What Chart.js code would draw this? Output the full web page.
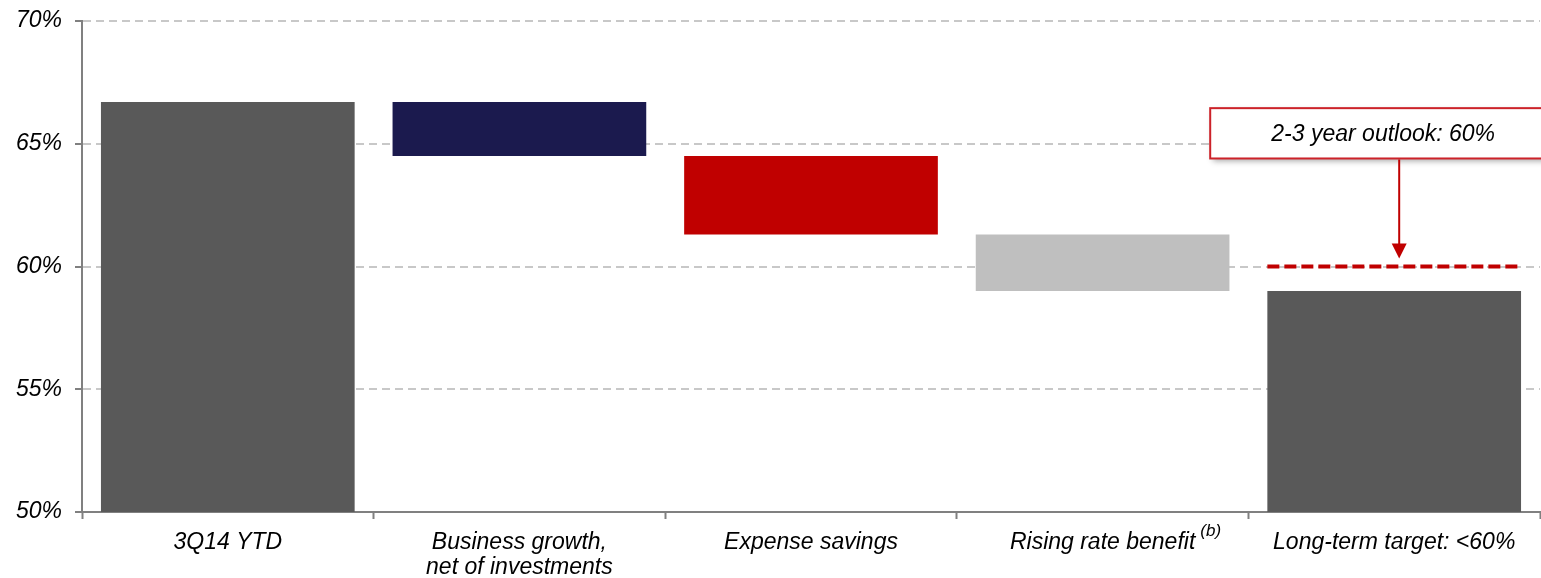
<!DOCTYPE html>
<html>
<head>
<meta charset="utf-8">
<title>Efficiency ratio walk</title>
<script src="https://cdn.jsdelivr.net/npm/chart.js@4/dist/chart.umd.min.js"></script>
<style>
  html, body { margin: 0; padding: 0; background: #fff; }
  #wrap { position: relative; width: 1541px; height: 578px; }
</style>
</head>
<body>
<div id="wrap"><canvas id="walkChart"></canvas></div>
<script>
// Waterfall steps: each bar floats from start to end (percent)
const categories = ['3Q14 YTD', ['Business growth,', 'net of investments'], 'Expense savings', 'Rising rate benefit', 'Long-term target: <60%'];
const barStarts = [50, 64.5, 61.3, 59.0, 50];
const barEnds = [66.7, 66.7, 64.5, 61.3, 59.0];
const yTicks = [50, 55, 60, 65, 70];

const outlookText = '2-3 year outlook: 60%';
const outlookValue = 60;
const footnoteIndex = 3;
const footnoteText = '(b)';

const barColors = ['#595959', '#1B1A4E', '#C00000', '#BFBFBF', '#595959'];
const FONT = "'Liberation Sans', Arial, sans-serif";
const FONT_SIZE = 23;
const TICK_LEN = 7;
const X_PAD = 11;
const LINE_H = 1.1;

const outlookPlugin = {
    id: 'outlook',
    afterDatasetsDraw(chart) {
        const { ctx, scales: { y } } = chart;
        const bar = chart.getDatasetMeta(0).data[4];
        const { x: bx, width: bw } = bar.getProps(['x', 'width'], true);
        const yLine = y.getPixelForValue(outlookValue);

        ctx.save();
        // dashed target line across the last bar
        ctx.strokeStyle = '#C00000';
        ctx.lineWidth = 4;
        ctx.setLineDash([12, 5]);
        ctx.beginPath();
        ctx.moveTo(bx - bw / 2, yLine);
        ctx.lineTo(bx + bw / 2, yLine);
        ctx.stroke();
        ctx.setLineDash([]);

        // callout box
        const boxW = 346;
        const cx = bx - 11;
        const top = y.getPixelForValue(66.45);
        const bottom = y.getPixelForValue(64.4);
        ctx.save();
        ctx.shadowColor = 'rgba(0,0,0,0.35)';
        ctx.shadowBlur = 6;
        ctx.shadowOffsetX = 3;
        ctx.shadowOffsetY = 3;
        ctx.fillStyle = '#fff';
        ctx.fillRect(cx - boxW / 2, top, boxW, bottom - top);
        ctx.restore();
        ctx.strokeStyle = '#CC2229';
        ctx.lineWidth = 2;
        ctx.strokeRect(cx - boxW / 2, top, boxW, bottom - top);

        ctx.fillStyle = '#000';
        ctx.font = 'italic ' + FONT_SIZE + 'px ' + FONT;
        ctx.textAlign = 'center';
        ctx.textBaseline = 'middle';
        ctx.fillText(outlookText, cx, (top + bottom) / 2 + 1);

        // arrow down to the outlook line
        const ax = bx + 5;
        const tip = yLine - 8;
        ctx.strokeStyle = '#C00000';
        ctx.fillStyle = '#C00000';
        ctx.lineWidth = 2;
        ctx.beginPath();
        ctx.moveTo(ax, bottom + 1);
        ctx.lineTo(ax, tip - 12);
        ctx.stroke();
        ctx.beginPath();
        ctx.moveTo(ax - 7.5, tip - 15);
        ctx.lineTo(ax + 7.5, tip - 15);
        ctx.lineTo(ax, tip);
        ctx.closePath();
        ctx.fill();
        ctx.restore();
    },
    afterDraw(chart) {
        // superscript footnote mark after one category label
        const { ctx, scales: { x } } = chart;
        const label = categories[footnoteIndex];
        ctx.save();
        ctx.font = 'italic ' + FONT_SIZE + 'px ' + FONT;
        const w = ctx.measureText(label).width;
        const cx = x.getPixelForTick(footnoteIndex);
        const cy = x.top + TICK_LEN + X_PAD + FONT_SIZE * LINE_H / 2;
        ctx.font = 'italic 17px ' + FONT;
        ctx.fillStyle = '#000';
        ctx.textAlign = 'left';
        ctx.textBaseline = 'middle';
        ctx.fillText(footnoteText, cx + w / 2 + 5, cy - 11);
        ctx.restore();
    }
};

new Chart(document.getElementById('walkChart'), {
    type: 'bar',
    data: {
        labels: categories,
        datasets: [{
            data: barStarts.map((s, i) => [s, barEnds[i]]),
            backgroundColor: barColors,
            borderWidth: 0,
            categoryPercentage: 1,
            barPercentage: 0.87
        }]
    },
    options: {
        responsive: true,
        maintainAspectRatio: false,
        animation: false,
        layout: { padding: { top: 21, right: 1, left: 0, bottom: 0 } },
        plugins: {
            legend: { display: false },
            tooltip: { enabled: false }
        },
        scales: {
            x: {
                offset: true,
                grid: {
                    offset: true,
                    drawOnChartArea: false,
                    tickLength: TICK_LEN,
                    tickColor: '#808080',
                    tickWidth: 2
                },
                border: { color: '#808080', width: 2 },
                ticks: {
                    color: '#000',
                    padding: X_PAD,
                    maxRotation: 0,
                    autoSkip: false,
                    font: { family: FONT, size: FONT_SIZE, style: 'italic', lineHeight: LINE_H }
                },
                afterFit(scale) { scale.height = 66; }
            },
            y: {
                min: yTicks[0],
                max: yTicks[yTicks.length - 1],
                afterBuildTicks(scale) { scale.ticks = yTicks.map(v => ({ value: v })); },
                grid: {
                    color: '#C8C8C8',
                    lineWidth: 2,
                    tickLength: TICK_LEN,
                    tickColor: '#808080',
                    tickWidth: 2
                },
                border: { color: '#808080', width: 2, dash: [8, 5] },
                ticks: {
                    color: '#000',
                    padding: 13,
                    callback: v => v + '%',
                    font: { family: FONT, size: FONT_SIZE, style: 'italic' }
                },
                afterFit(scale) {
                    scale.width = 82;
                    scale.paddingTop = 0;
                    scale.paddingBottom = 0;
                }
            }
        }
    },
    plugins: [outlookPlugin]
});
</script>
</body>
</html>
